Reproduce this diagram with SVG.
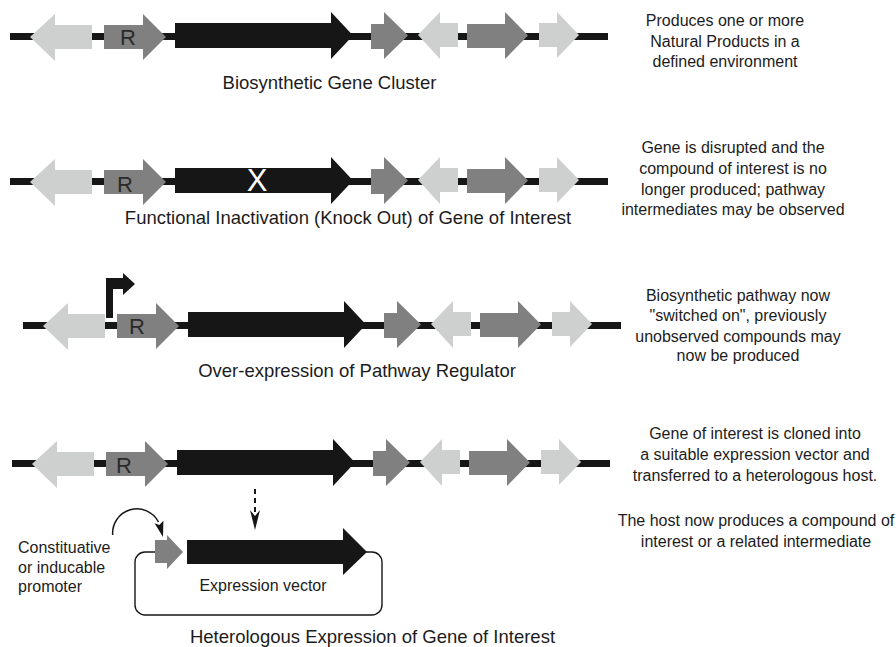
<svg xmlns="http://www.w3.org/2000/svg" width="896" height="647" viewBox="0 0 896 647">
  <style>
    .dna { stroke: #161616; stroke-width: 7; fill: none; }
    .lg { fill: #cdd0ce; }
    .dg { fill: #808080; }
    .bk { fill: #161616; }
    .rlab { font-family: "Liberation Sans", Arial, sans-serif; font-size: 22px; fill: #2a2a2a; text-anchor: middle; }
    .ko { font-family: "Liberation Sans", Arial, sans-serif; font-size: 31px; fill: #ffffff; text-anchor: middle; }
    .cap { font-family: "Liberation Sans", Arial, sans-serif; font-size: 18.5px; fill: #1c1c1c; text-anchor: middle; }
    .note { font-family: "Liberation Sans", Arial, sans-serif; font-size: 16px; fill: #1c1c1c; text-anchor: middle; }
    .side { font-family: "Liberation Sans", Arial, sans-serif; font-size: 16px; fill: #1c1c1c; }
    .link { stroke: #161616; fill: none; }
  </style>
  <defs>
    <!-- one gene cluster, drawn in local coordinates and reused per row -->
    <path id="dnaLine" class="dna" d="M10,36.5 H608"/>
    <polygon id="gLeft1" class="lg" points="30,37 55,14 55,25 92,25 92,49 55,49 55,61"/>
    <polygon id="gReg" class="dg" points="104,25 143,25 143,14 166,37 143,60 143,49 104,49"/>
    <polygon id="gTarget" class="bk" points="175,23 331,23 331,12 353,35.5 331,59 331,48 175,48"/>
    <polygon id="gSmall" class="dg" points="371,24 384,24 384,12 408,35.5 384,59 384,49 371,49"/>
    <polygon id="gLeft2" class="lg" points="418,35 440,12 440,23 458,23 458,47 440,47 440,59"/>
    <polygon id="gMid" class="dg" points="467,24 505,24 505,12 528,35.5 505,59 505,48 467,48"/>
    <polygon id="gEnd" class="lg" points="539,23 557,23 557,12 579,35 557,58 557,47 539,47"/>
  </defs>

  <!-- Row 1: native cluster -->
  <g id="row1-cluster">
    <use href="#dnaLine"/>
    <g id="row1-gene-a"><use href="#gLeft1"/></g>
    <g id="row1-regulator"><use href="#gReg"/><text class="rlab" x="128" y="45">R</text></g>
    <g id="row1-target"><use href="#gTarget"/></g>
    <g id="row1-gene-b"><use href="#gSmall"/></g>
    <g id="row1-gene-c"><use href="#gLeft2"/></g>
    <g id="row1-gene-d"><use href="#gMid"/></g>
    <g id="row1-gene-e"><use href="#gEnd"/></g>
  </g>

  <!-- Row 2: knock out -->
  <g id="row2-cluster" transform="translate(0,145)">
    <use href="#dnaLine"/>
    <g id="row2-gene-a"><use href="#gLeft1"/></g>
    <g id="row2-regulator"><use href="#gReg"/><text class="rlab" x="125" y="46.5">R</text></g>
    <g id="row2-target"><use href="#gTarget"/><text class="ko" x="257" y="46">X</text></g>
    <g id="row2-gene-b"><use href="#gSmall"/></g>
    <g id="row2-gene-c"><use href="#gLeft2"/></g>
    <g id="row2-gene-d"><use href="#gMid"/></g>
    <g id="row2-gene-e"><use href="#gEnd"/></g>
  </g>

  <!-- Row 3: regulator over-expression -->
  <g id="row3-cluster" transform="translate(13,289)">
    <use href="#dnaLine"/>
    <g id="row3-gene-a"><use href="#gLeft1"/></g>
    <g id="row3-regulator"><use href="#gReg"/><text class="rlab" x="124" y="44.5">R</text></g>
    <g id="row3-target"><use href="#gTarget"/></g>
    <g id="row3-gene-b"><use href="#gSmall"/></g>
    <g id="row3-gene-c"><use href="#gLeft2"/></g>
    <g id="row3-gene-d"><use href="#gMid"/></g>
    <g id="row3-gene-e"><use href="#gEnd"/></g>
  </g>
  <g id="row3-promoter">
    <polygon class="bk" points="106,318 106,278 123,278 123,273 135,284 123,295 123,289 113,289 113,318"/>
  </g>

  <!-- Row 4: heterologous expression source -->
  <g id="row4-cluster" transform="translate(2,427)">
    <use href="#dnaLine"/>
    <g id="row4-gene-a"><use href="#gLeft1"/></g>
    <g id="row4-regulator"><use href="#gReg"/><text class="rlab" x="122" y="45.5">R</text></g>
    <g id="row4-target"><use href="#gTarget"/></g>
    <g id="row4-gene-b"><use href="#gSmall"/></g>
    <g id="row4-gene-c"><use href="#gLeft2"/></g>
    <g id="row4-gene-d"><use href="#gMid"/></g>
    <g id="row4-gene-e"><use href="#gEnd"/></g>
  </g>

  <!-- Expression vector -->
  <g id="vector">
    <path class="link" stroke-width="1.4" d="M155,552 H145 A10,10 0 0 0 135,562 V605 A10,10 0 0 0 145,615 H372 A10,10 0 0 0 382,605 V562 A10,10 0 0 0 372,552 H366"/>
    <polygon class="dg" points="155,540 167,540 167,535 183,552 167,569 167,563 155,563"/>
    <polygon class="bk" points="187,540 343,540 343,528 367,552 343,575 343,564 187,564"/>
    <text class="note" x="263" y="591">Expression vector</text>
  </g>

  <!-- Connectors -->
  <g id="connectors">
    <path class="link" stroke-width="2" stroke-dasharray="5,4" d="M255,489 V512"/>
    <polygon class="bk" points="250,510 255,516 260,510 255,530"/>
    <path class="link" stroke-width="1.5" d="M112.7,535 A24.3,24.3 0 0 1 158.5,522"/>
    <polygon class="bk" points="163,537 154.6,523.2 159.3,525 163.4,520.8"/>
  </g>

  <!-- Row captions -->
  <g id="captions">
    <text class="cap" x="329.5" y="88.5">Biosynthetic Gene Cluster</text>
    <text class="cap" x="348" y="224">Functional Inactivation (Knock Out) of Gene of Interest</text>
    <text class="cap" x="357" y="376.5">Over-expression of Pathway Regulator</text>
    <text class="cap" x="372.5" y="643">Heterologous Expression of Gene of Interest</text>
  </g>

  <!-- Promoter label -->
  <g id="promoter-label">
    <text class="side" x="18" y="553">Constituative</text>
    <text class="side" x="18" y="572.5">or inducable</text>
    <text class="side" x="18" y="591.5">promoter</text>
  </g>

  <!-- Outcome notes -->
  <g id="note1">
    <text class="note" x="725" y="26">Produces one or more</text>
    <text class="note" x="725" y="46.5">Natural Products in a</text>
    <text class="note" x="725" y="67">defined environment</text>
  </g>
  <g id="note2">
    <text class="note" x="733" y="153">Gene is disrupted and the</text>
    <text class="note" x="733" y="174">compound of interest is no</text>
    <text class="note" x="733" y="195">longer produced; pathway</text>
    <text class="note" x="733" y="214.5">intermediates may be observed</text>
  </g>
  <g id="note3">
    <text class="note" x="738" y="300.5">Biosynthetic pathway now</text>
    <text class="note" x="738" y="321">"switched on", previously</text>
    <text class="note" x="738" y="341.5">unobserved compounds may</text>
    <text class="note" x="738" y="361">now be produced</text>
  </g>
  <g id="note4">
    <text class="note" x="755" y="438.5">Gene of interest is cloned into</text>
    <text class="note" x="755" y="460">a suitable expression vector and</text>
    <text class="note" x="755" y="481">transferred to a heterologous host.</text>
  </g>
  <g id="note5">
    <text class="note" x="756" y="525.5">The host now produces a compound of</text>
    <text class="note" x="756" y="547">interest or a related intermediate</text>
  </g>
</svg>
